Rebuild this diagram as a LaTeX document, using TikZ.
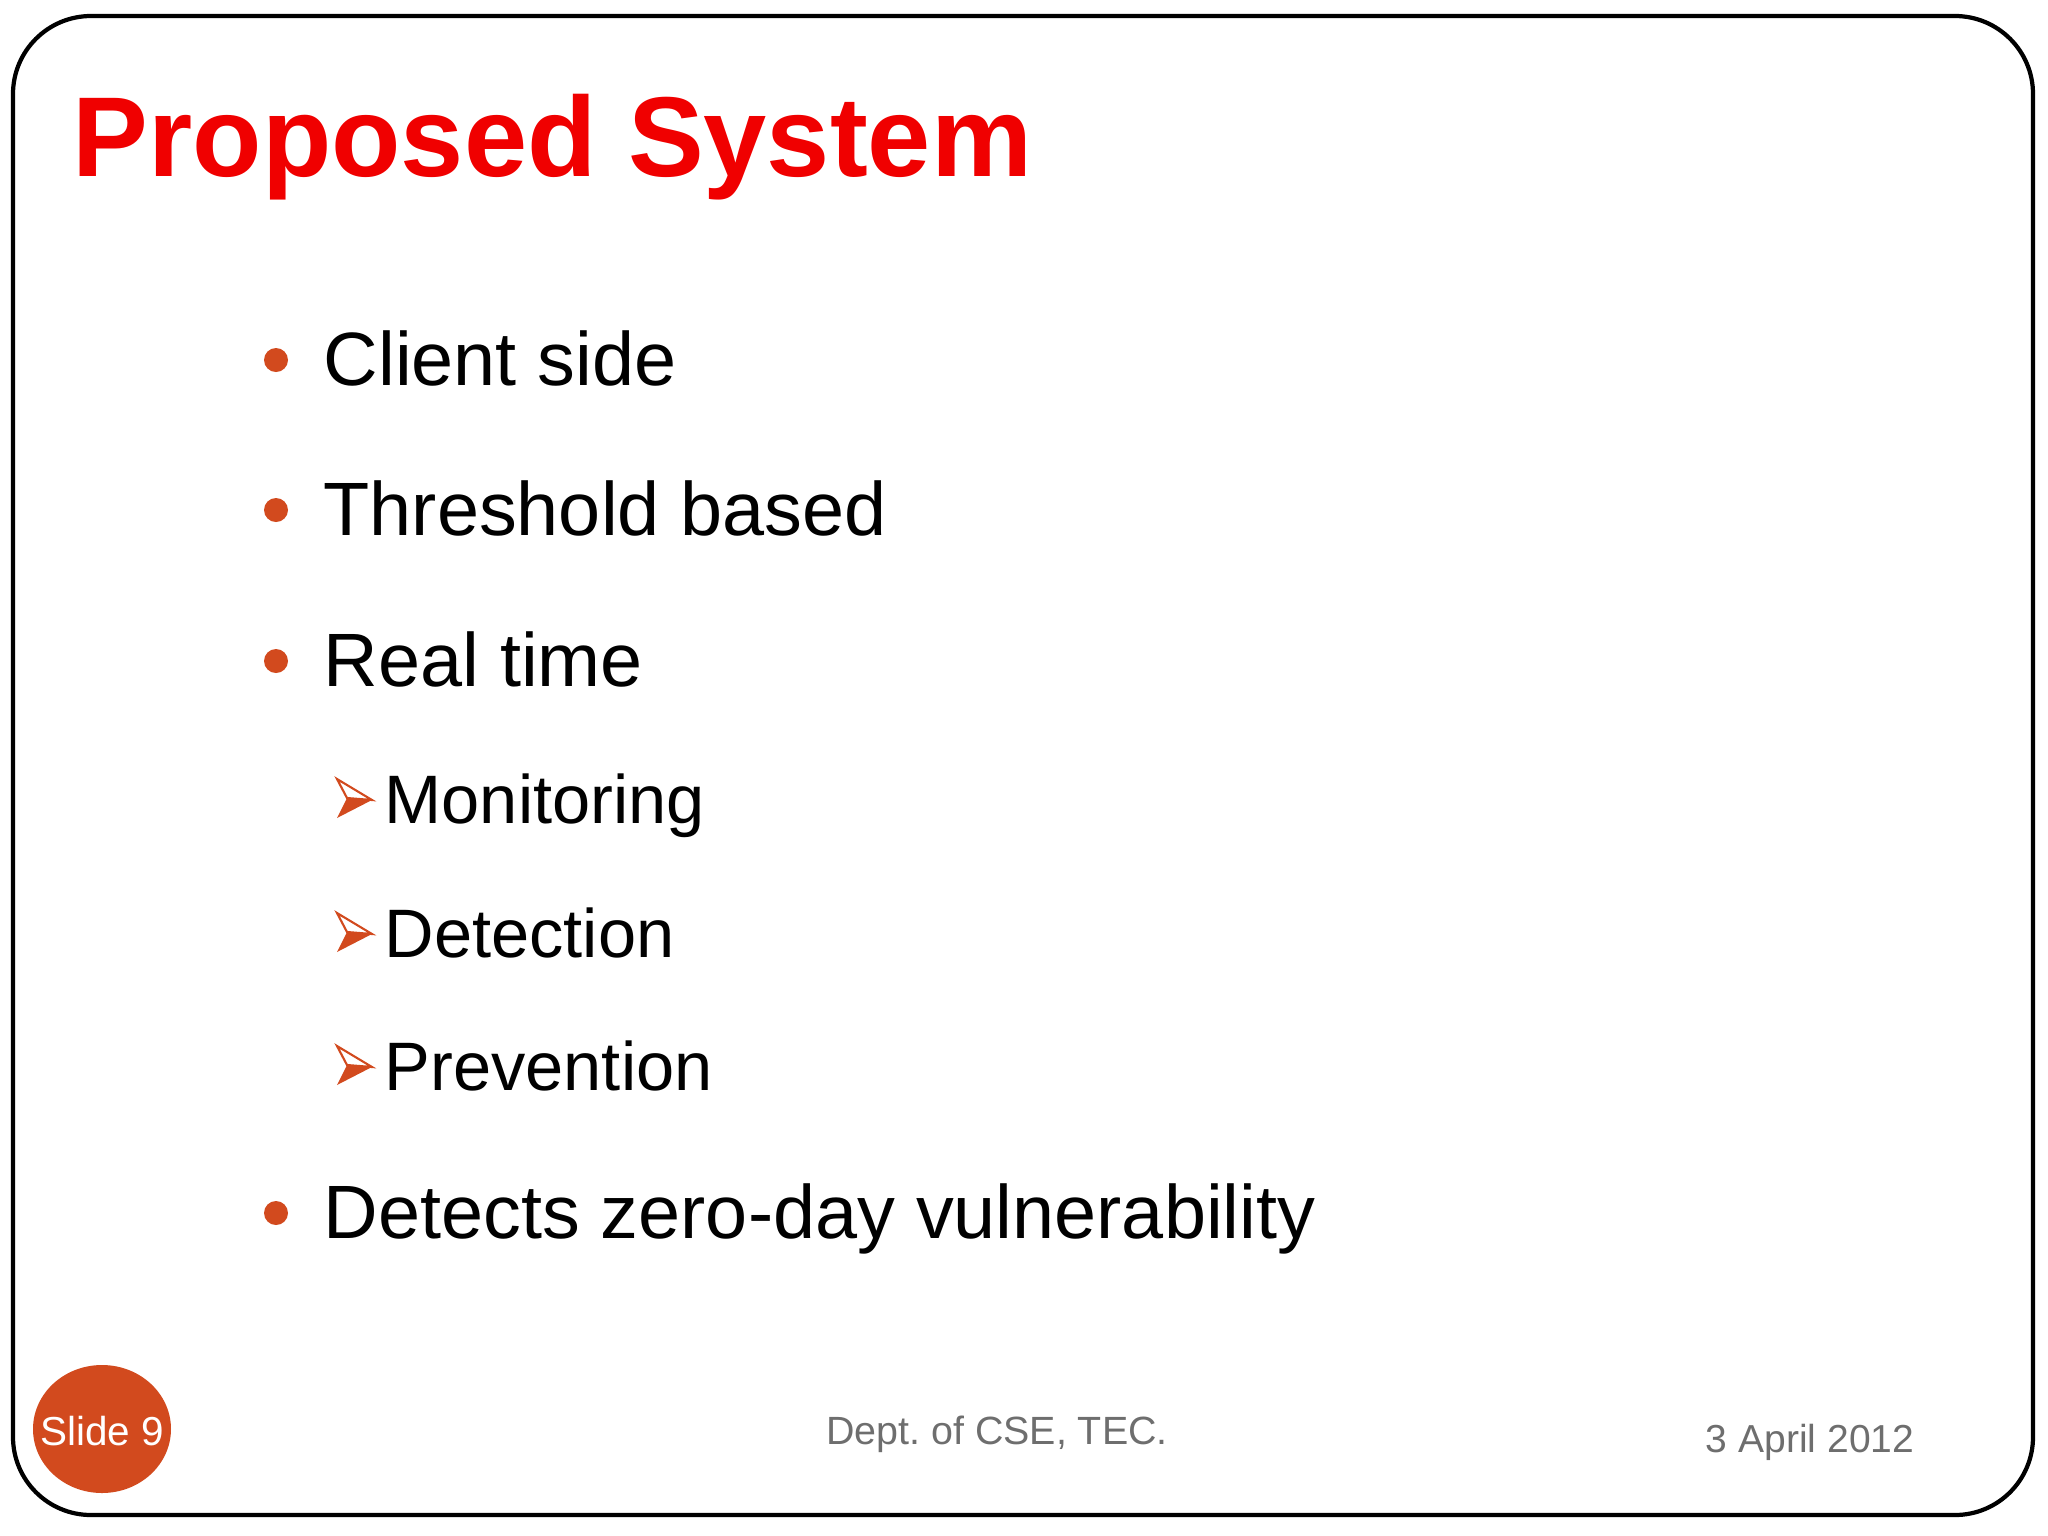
\documentclass[tikz,border=0pt]{standalone}
\usepackage{fontspec}
\setmainfont{Liberation Sans}
\frenchspacing
\definecolor{bul}{HTML}{D24A1E}
\definecolor{ttl}{HTML}{F00000}
\definecolor{foot}{HTML}{6E6E6E}
\begin{document}
\begin{tikzpicture}[x=0.01cm,y=-0.01cm,
  item/.style={anchor=base west,inner sep=0pt,font=\fontsize{21.5}{26}\selectfont},
  subitem/.style={anchor=base west,inner sep=0pt,font=\fontsize{19.5}{24}\selectfont},
  dotb/.style={fill=bul,draw=none}]
\useasboundingbox (0,0) rectangle (2048,1536);
\draw[line width=1.2pt,rounded corners=0.78cm] (13,16) rectangle (2033,1515);
\node[anchor=base west,inner sep=0pt,text=ttl,font=\fontsize{32.3}{38}\selectfont\bfseries] (title) at (72,176) {Proposed System};
\foreach \y/\t/\n in {385/Client side/a,535/Threshold based/b,686/Real time/c,1238/Detects zero-day vulnerability/d}{
  \fill[dotb] (276,\y-25) circle (12);
  \node[item] (\n) at (323,\y) {\t};
}
\foreach \y/\t/\n in {823/Monitoring/m,957/Detection/e,1090/Prevention/p}{
  \draw[bul,line width=0.6pt,fill=white,line join=miter] (337,\y-44) -- (372,\y-23) -- (347,\y-25) -- cycle;
  \fill[bul] (347,\y-25) -- (372,\y-23) -- (337,\y-5) -- cycle;
  \node[subitem] (\n) at (384,\y) {\t};
}
\fill[bul] (102,1429) ellipse (69 and 64);
\node[text=white,font=\fontsize{11.5}{14}\selectfont] (slide) at (102,1431) {Slide 9};
\node[anchor=base,inner sep=0pt,text=foot,font=\fontsize{11.2}{14}\selectfont] (dept) at (997,1444) {Dept. of CSE, TEC.};
\node[anchor=base east,inner sep=0pt,text=foot,font=\fontsize{11.1}{14}\selectfont] (date) at (1915,1452) {3 April 2012};
\end{tikzpicture}
\end{document}
